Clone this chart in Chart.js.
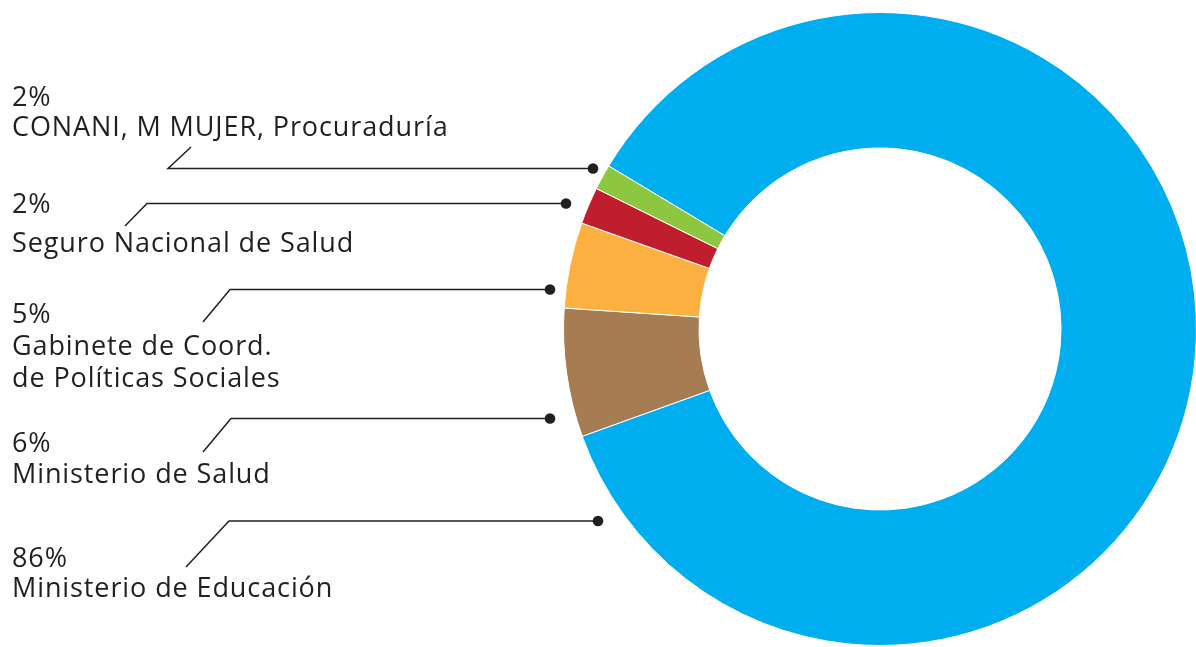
<!DOCTYPE html>
<html>
<head>
<meta charset="utf-8">
<script src="https://cdn.jsdelivr.net/npm/chart.js@4/dist/chart.umd.min.js"></script>
<style>
  html, body { margin: 0; padding: 0; background: #ffffff; overflow: hidden; width: 1196px; height: 647px; }
  #c { display: block; position: absolute; left: 0; top: 0; }
</style>
</head>
<body>
<canvas id="c" width="1200" height="660"></canvas>
<script>
// ---- data ----
const categories = [
  "Ministerio de Educación",
  "Ministerio de Salud",
  "Gabinete de Coord.\nde Políticas Sociales",
  "Seguro Nacional de Salud",
  "CONANI, M MUJER, Procuraduría"
];
const shares = [86.4, 6.6, 4.4, 1.9, 1.3];
const percentLabels = ["86%", "6%", "5%", "2%", "2%"];
const colors = ["#00AEEF", "#A67C52", "#FBB040", "#BE1E2D", "#8DC63F"];

// ---- label layout (positions only) ----
const layoutSpec = [
  { baselines: [567, 597], dotX: 598, lineY: 521, elbowX: 229, footX: 186, footY: 567 },
  { baselines: [451.5, 482.5], dotX: 550, lineY: 418.5, elbowX: 231, footX: 203, footY: 452 },
  { baselines: [323, 355, 386.5], dotX: 550, lineY: 289.5, elbowX: 230, footX: 203, footY: 322 },
  { baselines: [213, 251.5], dotX: 566, lineY: 203.5, elbowX: 147, footX: 125, footY: 226 },
  { baselines: [106, 136], dotX: 593, lineY: 168.5, elbowX: 168, footX: 191, footY: 147 }
];

const FONT = '400 27px "Open Sans", sans-serif';
const INK = "#231F20";

const labelPlugin = {
  id: 'leaderLabels',
  afterDraw(chart) {
    const ctx = chart.ctx;
    ctx.save();
    ctx.fillStyle = INK;
    ctx.strokeStyle = INK;
    ctx.font = FONT;
    if ('letterSpacing' in ctx) ctx.letterSpacing = '0.9px';
    ctx.textAlign = 'left';
    ctx.textBaseline = 'alphabetic';
    categories.forEach((cat, i) => {
      const L = layoutSpec[i];
      const lines = [percentLabels[i]].concat(cat.split("\n"));
      lines.forEach((t, k) => ctx.fillText(t, 12, L.baselines[k]));
      ctx.lineWidth = 1.5;
      ctx.beginPath();
      ctx.moveTo(L.footX, L.footY);
      ctx.lineTo(L.elbowX, L.lineY);
      ctx.lineTo(L.dotX, L.lineY);
      ctx.stroke();
      ctx.beginPath();
      ctx.arc(L.dotX, L.lineY, 5.3, 0, Math.PI * 2);
      ctx.fill();
    });
    ctx.restore();
  }
};

new Chart(document.getElementById('c'), {
  type: 'doughnut',
  data: {
    labels: categories,
    datasets: [{
      data: shares,
      backgroundColor: colors,
      borderColor: '#ffffff',
      borderWidth: 1,
      hoverOffset: 0,
      offset: 0
    }]
  },
  options: {
    responsive: false,
    animation: false,
    rotation: 301,
    cutout: '57.2%',
    layout: { padding: { left: 563, top: 12, right: 3, bottom: 14 } },
    plugins: { legend: { display: false }, tooltip: { enabled: false } },
    events: []
  },
  plugins: [labelPlugin]
});
</script>
</body>
</html>
